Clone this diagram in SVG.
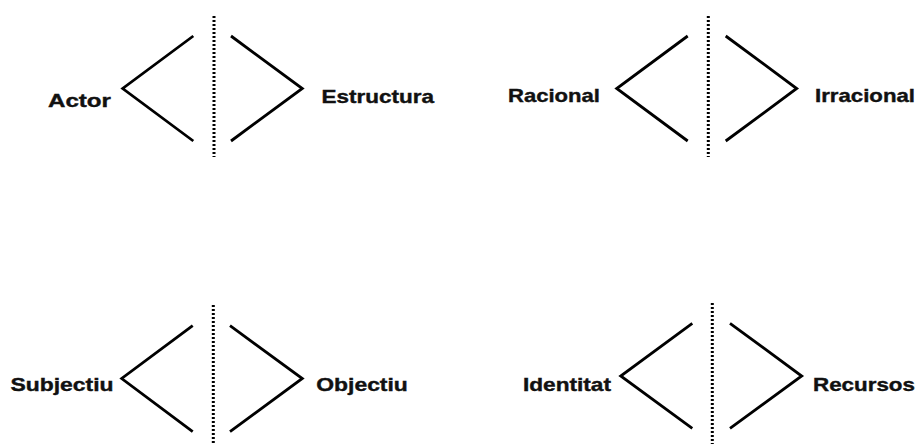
<svg xmlns="http://www.w3.org/2000/svg" width="918" height="444" viewBox="0 0 918 444">
<style>
.lbl{font-family:"Liberation Sans",Arial,Helvetica,sans-serif;font-weight:bold;font-size:19px;fill:#111;stroke:#111;stroke-width:0.4}
.chev{fill:none;stroke:#000;stroke-width:2.8;stroke-linecap:butt;stroke-linejoin:miter}
.div{fill:none;stroke:#000;stroke-width:3;stroke-dasharray:2 2}
</style>
<rect width="918" height="444" fill="#fff"/>
<g id="connectors">
<polyline class="chev" points="193.3,36 122.7,88.5 193.3,141"/>
<line class="div" x1="214" y1="16" x2="214" y2="157"/>
<polyline class="chev" points="231,36 302.3,88.5 231,141"/>
<polyline class="chev" points="687.7,36 616.7,88.5 687.7,141"/>
<line class="div" x1="708.3" y1="16" x2="708.3" y2="157"/>
<polyline class="chev" points="725.7,36 796.7,88.5 725.7,141"/>
<polyline class="chev" points="192.7,325.7 121.7,378.5 192.7,431.7"/>
<line class="div" x1="213.3" y1="305" x2="213.3" y2="444"/>
<polyline class="chev" points="230,325.7 302.3,378.5 230,431.7"/>
<polyline class="chev" points="692.3,323.3 620.7,376 692.3,428.3"/>
<line class="div" x1="712.3" y1="303" x2="712.3" y2="444"/>
<polyline class="chev" points="730,323.3 801.7,376 730,428.3"/>
</g>
<g id="actor"><text class="lbl" x="48" y="106.5" textLength="63" lengthAdjust="spacingAndGlyphs">Actor</text></g>
<g id="estructura"><text class="lbl" x="321.5" y="102.5" textLength="112.5" lengthAdjust="spacingAndGlyphs">Estructura</text></g>
<g id="racional"><text class="lbl" x="508" y="102" textLength="92" lengthAdjust="spacingAndGlyphs">Racional</text></g>
<g id="irracional"><text class="lbl" x="815" y="102" textLength="100" lengthAdjust="spacingAndGlyphs">Irracional</text></g>
<g id="subjectiu"><text class="lbl" x="10.5" y="391" textLength="103" lengthAdjust="spacingAndGlyphs">Subjectiu</text></g>
<g id="objectiu"><text class="lbl" x="316.3" y="391" textLength="91.5" lengthAdjust="spacingAndGlyphs">Objectiu</text></g>
<g id="identitat"><text class="lbl" x="523" y="390.5" textLength="88" lengthAdjust="spacingAndGlyphs">Identitat</text></g>
<g id="recursos"><text class="lbl" x="813" y="390.5" textLength="102" lengthAdjust="spacingAndGlyphs">Recursos</text></g>
</svg>
